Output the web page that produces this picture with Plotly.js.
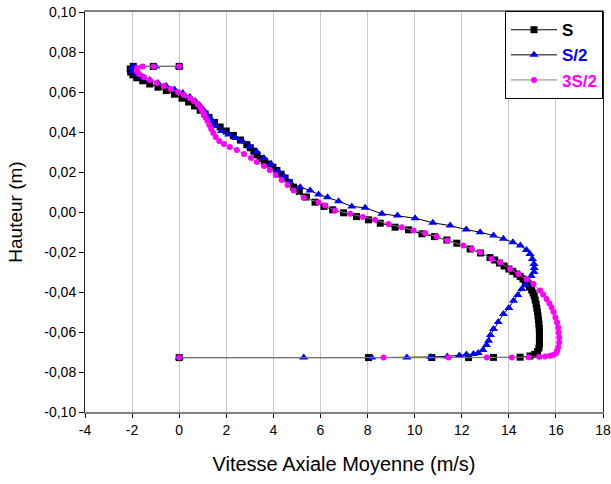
<!DOCTYPE html>
<html>
<head>
<meta charset="utf-8">
<script src="https://cdn.plot.ly/plotly-3.0.1.min.js"></script>
<style>html,body{margin:0;padding:0;background:#fff}#chart{width:611px;height:484px}</style>
</head>
<body>
<div id="chart"></div>
<script>
// Series S (black squares)
var S_x = [0, -1.1, -1.95, -2.08, -2.06, -1.97, -1.8, -1.55, -1.25, -0.9,
  -0.55, -0.2, 0.12, 0.4, 0.65, 0.89, 1.1, 1.27, 1.5, 1.74,
  2.0, 2.3, 2.6, 2.87, 3.02, 3.17, 3.3, 3.44, 3.62, 3.8,
  3.98, 4.15, 4.33, 4.5, 4.68, 4.86, 5.1, 5.4, 5.77, 6.15,
  6.52, 6.98, 7.53, 8.04, 8.54, 9.17, 9.74, 10.31, 10.84, 11.37,
  11.79, 12.36, 12.8, 13.2, 13.4, 13.6, 13.8, 14.0, 14.17, 14.34,
  14.48, 14.6, 14.7, 14.8, 14.88, 14.97, 15.03, 15.08, 15.12, 15.16,
  15.19, 15.22, 15.24, 15.26, 15.28, 15.29, 15.3, 15.3, 15.3, 15.3,
  15.28, 15.22, 15.1, 14.9, 14.48, 13.35, 12.29, 10.73, 8.04, 0];
var S_y = [0.0728, 0.0728, 0.0728, 0.0715, 0.0700, 0.0686, 0.0671, 0.0656, 0.0640, 0.0624,
  0.0607, 0.0589, 0.0569, 0.0550, 0.0530, 0.0509, 0.0490, 0.0473, 0.0448, 0.0425,
  0.0405, 0.0383, 0.0360, 0.0337, 0.0321, 0.0304, 0.0286, 0.0267, 0.0253, 0.0240,
  0.0224, 0.0208, 0.0189, 0.0170, 0.0147, 0.0124, 0.0103, 0.0075, 0.0049, 0.0028,
  0.0011, -0.0004, -0.0023, -0.0039, -0.0056, -0.0076, -0.0089, -0.0109, -0.0123, -0.0140,
  -0.0156, -0.0185, -0.0205, -0.0228, -0.0240, -0.0255, -0.0270, -0.0285, -0.0297, -0.0310,
  -0.0322, -0.0335, -0.0347, -0.0360, -0.0375, -0.0390, -0.0405, -0.0420, -0.0440, -0.0460,
  -0.0480, -0.0500, -0.0520, -0.0540, -0.0560, -0.0580, -0.0600, -0.0620, -0.0640, -0.0660,
  -0.0680, -0.0698, -0.0712, -0.0720, -0.0726, -0.0727, -0.0728, -0.0728, -0.0728, -0.0728];

// Series S/2 (blue triangles)
var B_x = [0, -1.0, -1.9, -2.0, -1.95, -1.8, -1.55, -1.25, -0.9, -0.55,
  -0.2, 0.15, 0.45, 0.68, 0.86, 1.0, 1.12, 1.25, 1.4, 1.57,
  1.8, 2.1, 2.4, 2.7, 3.0, 3.3, 3.6, 3.9, 4.2, 4.45,
  4.71, 5.14, 5.56, 5.92, 6.30, 6.77, 7.33, 7.90, 8.61, 9.27,
  10.02, 10.77, 11.51, 12.19, 12.78, 13.35, 13.77, 14.17, 14.49, 14.75,
  14.9, 15.0, 15.07, 15.08, 15.07, 14.95, 14.83, 14.7, 14.55, 14.38,
  14.2, 14.0, 13.77, 13.55, 13.35, 13.22, 13.14, 13.05, 12.9, 12.7,
  12.5, 12.2, 11.9, 11.39, 10.69, 9.67, 8.18, 5.29, 0];
var B_y = [0.0728, 0.0728, 0.0728, 0.0720, 0.0705, 0.0690, 0.0675, 0.0660, 0.0645, 0.0630,
  0.0612, 0.0595, 0.0575, 0.0555, 0.0535, 0.0515, 0.0495, 0.0475, 0.0455, 0.0430,
  0.0405, 0.0387, 0.0370, 0.0352, 0.0328, 0.0300, 0.0270, 0.0240, 0.0205, 0.0178,
  0.0149, 0.0124, 0.0108, 0.0088, 0.0074, 0.0054, 0.0028, 0.0021, -0.0009, -0.0018,
  -0.0031, -0.0054, -0.0068, -0.0088, -0.0101, -0.0118, -0.0134, -0.0151, -0.0168, -0.0190,
  -0.0210, -0.0235, -0.0260, -0.0280, -0.0300, -0.0320, -0.0343, -0.0365, -0.0385, -0.0415,
  -0.0444, -0.0480, -0.0510, -0.0550, -0.0585, -0.0615, -0.0644, -0.0665, -0.0690, -0.0705,
  -0.0710, -0.0713, -0.0718, -0.0722, -0.0725, -0.0727, -0.0728, -0.0728, -0.0728];

// Series 3S/2 (magenta dots)
var M_x = [0, -1.09, -1.55, -1.78, -1.8, -1.7, -1.5, -1.25, -0.95, -0.65,
  -0.35, -0.05, 0.2, 0.45, 0.62, 0.78, 0.9, 0.98, 1.05, 1.12,
  1.2, 1.28, 1.36, 1.45, 1.55, 1.7, 1.9, 2.15, 2.45, 2.75,
  3.05, 3.3, 3.6, 3.85, 4.1, 4.35, 4.6, 4.86, 5.29, 5.92,
  6.2, 6.62, 7.26, 7.8, 8.32, 8.89, 9.45, 9.95, 10.45, 10.94,
  11.39, 12.07, 12.43, 12.78, 13.27, 13.63, 14.06, 14.41, 14.76, 15.05,
  15.33, 15.46, 15.6, 15.72, 15.82, 15.9, 15.98, 16.05, 16.1, 16.12,
  16.14, 16.14, 16.1, 16.05, 16.0, 15.88, 15.75, 15.54, 15.29, 14.84,
  14.13, 13.07, 11.44, 8.68, 0];
var M_y = [0.0728, 0.0728, 0.0728, 0.0720, 0.0705, 0.0690, 0.0675, 0.0660, 0.0645, 0.0630,
  0.0615, 0.0600, 0.0585, 0.0570, 0.0555, 0.0540, 0.0522, 0.0505, 0.0490, 0.0472,
  0.0455, 0.0435, 0.0415, 0.0395, 0.0375, 0.0355, 0.0340, 0.0325, 0.0310, 0.0290,
  0.0270, 0.0250, 0.0230, 0.0210, 0.0185, 0.0160, 0.0135, 0.0108, 0.0071, 0.0049,
  0.0033, 0.0008, -0.0009, -0.0025, -0.0039, -0.0060, -0.0076, -0.0093, -0.0106, -0.0123,
  -0.0143, -0.0168, -0.0185, -0.0201, -0.0235, -0.0252, -0.0285, -0.0310, -0.0335, -0.0360,
  -0.0393, -0.0413, -0.0435, -0.0456, -0.0477, -0.0500, -0.0527, -0.0552, -0.0577, -0.0602,
  -0.0627, -0.0652, -0.0677, -0.0695, -0.0707, -0.0715, -0.0719, -0.0722, -0.0724, -0.0726,
  -0.0727, -0.0728, -0.0728, -0.0728, -0.0728];

var seriesNames = ['S', 'S/2', '3S/2'];
var xTitle = 'Vitesse Axiale Moyenne (m/s)';
var yTitle = 'Hauteur (m)';
var xTickVals = [-4, -2, 0, 2, 4, 6, 8, 10, 12, 14, 16, 18];
var xTickText = ['-4', '-2', '0', '2', '4', '6', '8', '10', '12', '14', '16', '18'];
var yTickVals = [-0.10, -0.08, -0.06, -0.04, -0.02, 0, 0.02, 0.04, 0.06, 0.08, 0.10];
var yTickText = ['-0,10', '-0,08', '-0,06', '-0,04', '-0,02', '0,00', '0,02', '0,04', '0,06', '0,08', '0,10'];

var FONT = '"Liberation Sans", Arial, sans-serif';

var traces = [
  {x: S_x, y: S_y, name: '<b>' + seriesNames[0] + '</b>', type: 'scatter', mode: 'lines+markers',
   line: {color: '#000000', width: 1},
   marker: {symbol: 'square', size: 7, color: '#000000'}},
  {x: B_x, y: B_y, name: '<b><span style="color:#0000ff">' + seriesNames[1] + '</span></b>', type: 'scatter', mode: 'lines+markers',
   line: {color: '#000000', width: 1},
   marker: {symbol: 'triangle-up', size: 8, color: '#0000ff'}},
  {x: M_x, y: M_y, name: '<b><span style="color:#ff00ff">' + seriesNames[2] + '</span></b>', type: 'scatter', mode: 'lines+markers',
   line: {color: '#808080', width: 1},
   marker: {symbol: 'circle', size: 6, color: '#ff00ff'}}
];

var layout = {
  width: 611, height: 484,
  margin: {l: 85, r: 8, t: 12, b: 72},
  paper_bgcolor: '#ffffff', plot_bgcolor: '#ffffff',
  separators: ', ',
  font: {family: FONT, size: 14, color: '#000000'},
  showlegend: true,
  legend: {x: 1, xanchor: 'right', y: 1.002, yanchor: 'top',
    bgcolor: '#ffffff', bordercolor: '#000000', borderwidth: 1,
    font: {family: FONT, size: 17, color: '#000000'},
    itemwidth: 46, tracegroupgap: 0},
  xaxis: {
    range: [-4, 18], tickmode: 'array', tickvals: xTickVals, ticktext: xTickText,
    showgrid: true, gridcolor: '#c8c8c8', gridwidth: 1,
    zeroline: false,
    showline: true, linecolor: '#808080', linewidth: 2, mirror: true,
    ticks: 'outside', ticklen: 4, tickcolor: '#000000',
    tickfont: {family: FONT, size: 14, color: '#000000'},
    title: {text: xTitle, font: {family: FONT, size: 20, color: '#000000'}, standoff: 20}
  },
  yaxis: {
    range: [-0.1, 0.1], tickmode: 'array', tickvals: yTickVals, ticktext: yTickText,
    showgrid: false, zeroline: false,
    showline: true, linecolor: '#202020', linewidth: 1, mirror: true,
    ticks: 'outside', ticklen: 5, tickcolor: '#000000',
    tickfont: {family: FONT, size: 14, color: '#000000'},
    title: {text: yTitle, font: {family: FONT, size: 19, color: '#000000'}, standoff: 16}
  }
};

Plotly.newPlot('chart', traces, layout, {displayModeBar: false, staticPlot: true});
</script>
</body>
</html>
